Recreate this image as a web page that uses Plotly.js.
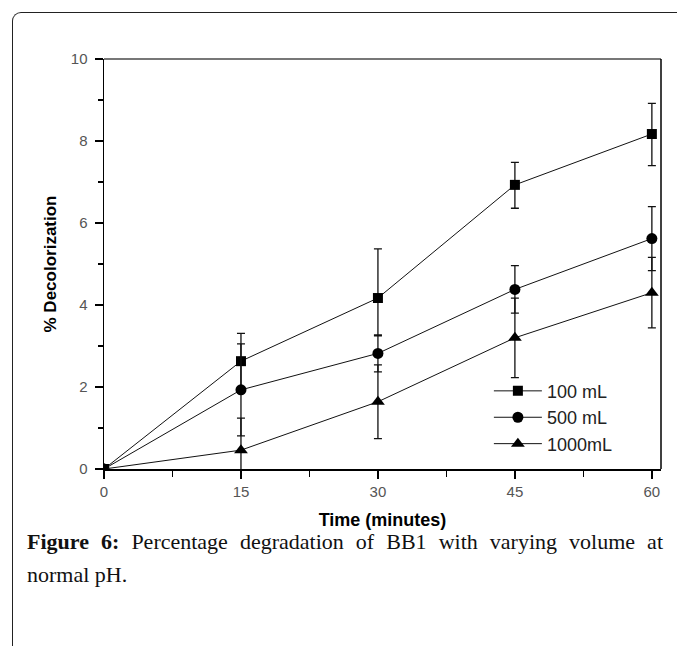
<!DOCTYPE html>
<html>
<head>
<meta charset="utf-8">
<script src="https://cdn.plot.ly/plotly-3.0.1.min.js"></script>
<style>
  html, body { margin: 0; padding: 0; background: #fff; }
  #wrap { position: relative; width: 677px; height: 646px; overflow: hidden; }
  #frame { position: absolute; left: 12px; top: 12px; width: 720px; height: 700px;
           border-left: 1.5px solid #222; border-top: 1.5px solid #222; border-top-left-radius: 9px; }
  #chart { position: absolute; left: 0; top: 0; width: 677px; height: 646px; }
  .cap { position: absolute; left: 27px; width: 636px; white-space: nowrap;
         font-family: "Liberation Serif", "Times New Roman", serif; font-size: 22px;
         line-height: 22px; color: #111; }
  #cap1 { top: 531px; text-align: justify; text-align-last: justify; white-space: normal; }
  #cap2 { top: 564px; text-align: left; }
</style>
</head>
<body>
<div id="wrap">
  <div id="frame"></div>
  <div id="chart"></div>
  <div class="cap" id="cap1"><b>Figure 6:</b> <span>Percentage degradation of BB1 with varying volume at</span></div>
  <div class="cap" id="cap2">normal pH.</div>
</div>
<script>
// Data
const time = [0, 15, 30, 45, 60];
const v100 = [0, 2.63, 4.17, 6.93, 8.17];
const e100plus = [0, 0.68, 1.20, 0.55, 0.75];
const e100minus = [0, 0.68, 0.92, 0.57, 0.77];
const v500 = [0, 1.93, 2.82, 4.38, 5.62];
const e500 = [0, 1.12, 0.45, 0.58, 0.78];
const v1000 = [0, 0.46, 1.64, 3.20, 4.30];
const e1000 = [0, 0.78, 0.90, 0.97, 0.86];
const seriesNames = ["100 mL", "500 mL", "1000mL"];
const xTicks = [0, 15, 30, 45, 60];
const yTicks = [0, 2, 4, 6, 8, 10];

function errStyle(plus, minus) {
  const o = { type: 'data', array: plus, visible: true, color: '#111', thickness: 1.3, width: 4 };
  if (minus) { o.symmetric = false; o.arrayminus = minus; }
  return o;
}

const traces = [
  { x: time, y: v100, name: seriesNames[0], mode: 'lines+markers', type: 'scatter',
    line: { color: '#111', width: 1 }, marker: { symbol: 'square', size: 10, color: '#000' },
    error_y: errStyle(e100plus, e100minus) },
  { x: time, y: v500, name: seriesNames[1], mode: 'lines+markers', type: 'scatter',
    line: { color: '#111', width: 1 }, marker: { symbol: 'circle', size: 11, color: '#000' },
    error_y: errStyle(e500) },
  { x: time, y: v1000, name: seriesNames[2], mode: 'lines+markers', type: 'scatter',
    line: { color: '#111', width: 1 }, marker: { symbol: 'triangle-up', size: 12, color: '#000' },
    error_y: errStyle(e1000) }
];

const layout = {
  width: 677, height: 646,
  margin: { l: 104, r: 16, t: 59, b: 177 },
  paper_bgcolor: 'rgba(0,0,0,0)',
  plot_bgcolor: 'rgba(0,0,0,0)',
  font: { family: 'Arial, "Liberation Sans", sans-serif', color: '#000' },
  showlegend: true,
  legend: {
    x: 0.691, y: 0.235, xanchor: 'left', yanchor: 'top',
    bgcolor: 'rgba(0,0,0,0)', borderwidth: 0,
    font: { size: 18, color: '#222' }, itemwidth: 48, tracegroupgap: 0
  },
  xaxis: {
    range: [0, 61], tickvals: xTicks, ticktext: xTicks.map(String),
    showgrid: false, zeroline: false, showline: true, linecolor: '#000', linewidth: 1.5,
    ticks: 'outside', ticklen: 8, tickwidth: 1.3, tickcolor: '#000',
    tickfont: { size: 15, color: '#555' },
    minor: { dtick: 7.5, tick0: 0, ticks: 'outside', ticklen: 6, tickwidth: 1.2, tickcolor: '#000', showgrid: false },
    title: { text: '<b>Time (minutes)</b>', font: { size: 18, color: '#000' }, standoff: 15 }
  },
  yaxis: {
    range: [0, 10], tickvals: yTicks, ticktext: yTicks.map(String),
    showgrid: false, zeroline: false, showline: true, linecolor: '#000', linewidth: 1.5,
    ticks: 'outside', ticklen: 8, tickwidth: 1.3, tickcolor: '#000',
    tickfont: { size: 15, color: '#555' }, ticklabelstandoff: 4,
    minor: { dtick: 1, tick0: 0, ticks: 'outside', ticklen: 5, tickwidth: 1.2, tickcolor: '#000', showgrid: false },
    title: { text: '<b>% Decolorization</b>', font: { size: 17, color: '#000' }, standoff: 10 }
  },
  shapes: [
    { type: 'line', xref: 'paper', yref: 'paper', x0: 0, x1: 1, y0: 1, y1: 1,
      line: { color: '#777', width: 2.2 } },
    { type: 'line', xref: 'paper', yref: 'paper', x0: 1, x1: 1, y0: 0, y1: 1,
      line: { color: '#000', width: 1.5 } }
  ]
};

Plotly.newPlot('chart', traces, layout, { displayModeBar: false, staticPlot: true });
</script>
</body>
</html>
